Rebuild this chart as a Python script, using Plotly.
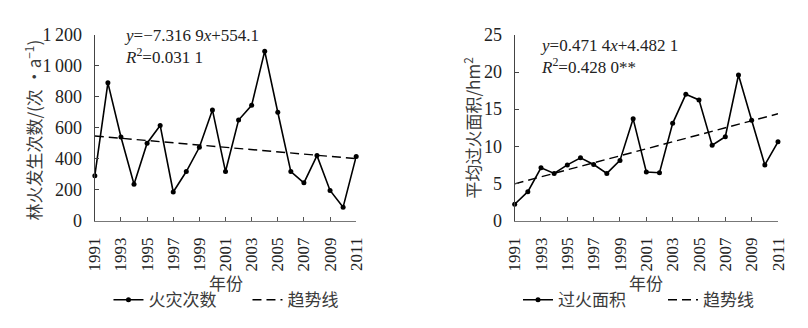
import plotly.graph_objects as go

years = list(range(1991, 2012))
fire_counts = [290, 890, 540, 235, 500, 615, 185, 317, 474, 715, 317,
               650, 745, 1095, 700, 317, 244, 420, 195, 87, 415]
burned_area = [2.2, 3.9, 7.1, 6.35, 7.5, 8.45, 7.55, 6.35, 8.1, 13.7, 6.55,
               6.45, 13.1, 17.0, 16.25, 10.15, 11.3, 19.6, 13.5, 7.5, 10.6]
trend_years = [1991, 2011]
trend_counts = [546.8, 400.4]
trend_area = [4.95, 14.38]

x_tickvals = list(range(1991, 2012, 2))
left_tickvals = [0, 200, 400, 600, 800, 1000, 1200]
left_ticktext = ["0", "200", "400", "600", "800", "1\u2009000", "1\u2009200"]
right_tickvals = [0, 5, 10, 15, 20, 25]

series_left = "火灾次数"
series_right = "过火面积"
trend_name = "趋势线"
x_title = "年份"
y_title_left = "林火发生次数/(次 •a<sup>−1</sup>)"
y_title_right = "平均过火面积/hm<sup>2</sup>"
eq_left = "<i>y</i>=−7.316 9<i>x</i>+554.1<br><i>R</i><sup>2</sup>=0.031 1"
eq_right = "<i>y</i>=0.471 4<i>x</i>+4.482 1<br><i>R</i><sup>2</sup>=0.428 0**"

W, H = 808, 328
SERIF = "Times New Roman, Liberation Serif, serif"
CJK = "Noto Sans CJK SC"
TXT = "#3a3a3a"

def px_x(v):
    return v / W

def px_y(v):
    return 1 - v / H

fig = go.Figure()

line_style = dict(color="black", width=1.6)
marker_style = dict(color="black", size=5)

fig.add_trace(go.Scatter(x=years, y=fire_counts, mode="lines+markers",
                         name=series_left, line=line_style, marker=marker_style,
                         xaxis="x", yaxis="y", legend="legend", cliponaxis=False))
fig.add_trace(go.Scatter(x=trend_years, y=trend_counts, mode="lines",
                         name=trend_name, line=dict(color="black", width=1.4, dash="9px,5px"),
                         xaxis="x", yaxis="y", legend="legend", cliponaxis=False))
fig.add_trace(go.Scatter(x=years, y=burned_area, mode="lines+markers",
                         name=series_right, line=line_style, marker=marker_style,
                         xaxis="x2", yaxis="y2", legend="legend2", cliponaxis=False))
fig.add_trace(go.Scatter(x=trend_years, y=trend_area, mode="lines",
                         name=trend_name, line=dict(color="black", width=1.4, dash="9px,5px"),
                         xaxis="x2", yaxis="y2", legend="legend2", cliponaxis=False))

ydom = [px_y(224.3), px_y(26.5)]

xaxis_common = dict(range=[1991, 2011], tickvals=x_tickvals, tickangle=-90,
                    ticks="inside", ticklen=4, tickcolor="#555", showline=True,
                    linecolor="#777", linewidth=1.2, showgrid=False, zeroline=False,
                    tickfont=dict(family=SERIF, size=17, color="#222"),
                    ticklabelstandoff=9)
yaxis_common = dict(ticks="inside", ticklen=4, tickcolor="#444", showline=True,
                    linecolor="#444", linewidth=1.2, showgrid=False, zeroline=False,
                    tickfont=dict(family=SERIF, size=18, color="#222"),
                    ticklabelstandoff=8)

fig.update_layout(
    width=W, height=H,
    margin=dict(l=0, r=0, t=0, b=0),
    paper_bgcolor="white", plot_bgcolor="white",
    xaxis=dict(domain=[px_x(88), px_x(356)], anchor="y", **xaxis_common),
    yaxis=dict(domain=ydom, anchor="x", range=[0, 1200], tickvals=left_tickvals,
               ticktext=left_ticktext, **yaxis_common),
    xaxis2=dict(domain=[px_x(518.5), px_x(788.5)], anchor="y2", **xaxis_common),
    yaxis2=dict(domain=ydom, anchor="x2", range=[0, 25], tickvals=right_tickvals,
                **yaxis_common),
    legend=dict(orientation="h", x=px_x(102), xanchor="left", y=px_y(309), yanchor="middle",
                font=dict(family=CJK, size=17, color=TXT), bgcolor="rgba(0,0,0,0)",
                itemwidth=30, tracegroupgap=0, entrywidth=94, entrywidthmode="pixels"),
    legend2=dict(orientation="h", x=px_x(522), xanchor="left", y=px_y(309), yanchor="middle",
                 font=dict(family=CJK, size=17, color=TXT), bgcolor="rgba(0,0,0,0)",
                 itemwidth=30, tracegroupgap=0, entrywidth=100, entrywidthmode="pixels"),
    showlegend=True,
)

fig.add_annotation(text=eq_left, xref="paper", yref="paper", x=px_x(116), y=px_y(39),
                   xanchor="left", yanchor="middle", align="left", showarrow=False,
                   font=dict(family=SERIF, size=17, color="#222"))
fig.add_annotation(text=eq_right, xref="paper", yref="paper", x=px_x(542), y=px_y(50),
                   xanchor="left", yanchor="middle", align="left", showarrow=False,
                   font=dict(family=SERIF, size=17, color="#222"))

fig.add_annotation(text=y_title_left, xref="paper", yref="paper", x=px_x(25), y=px_y(128),
                   textangle=-90, showarrow=False, xanchor="center", yanchor="middle",
                   font=dict(family=CJK, size=17, color=TXT))
fig.add_annotation(text=y_title_right, xref="paper", yref="paper", x=px_x(475), y=px_y(126),
                   textangle=-90, showarrow=False, xanchor="center", yanchor="middle",
                   font=dict(family=CJK, size=17, color=TXT))
fig.add_annotation(text=x_title, xref="paper", yref="paper", x=px_x(223), y=px_y(290),
                   showarrow=False, xanchor="center", yanchor="middle",
                   font=dict(family=CJK, size=17, color=TXT))
fig.add_annotation(text=x_title, xref="paper", yref="paper", x=px_x(653), y=px_y(290),
                   showarrow=False, xanchor="center", yanchor="middle",
                   font=dict(family=CJK, size=17, color=TXT))

fig.write_html("out.html")
